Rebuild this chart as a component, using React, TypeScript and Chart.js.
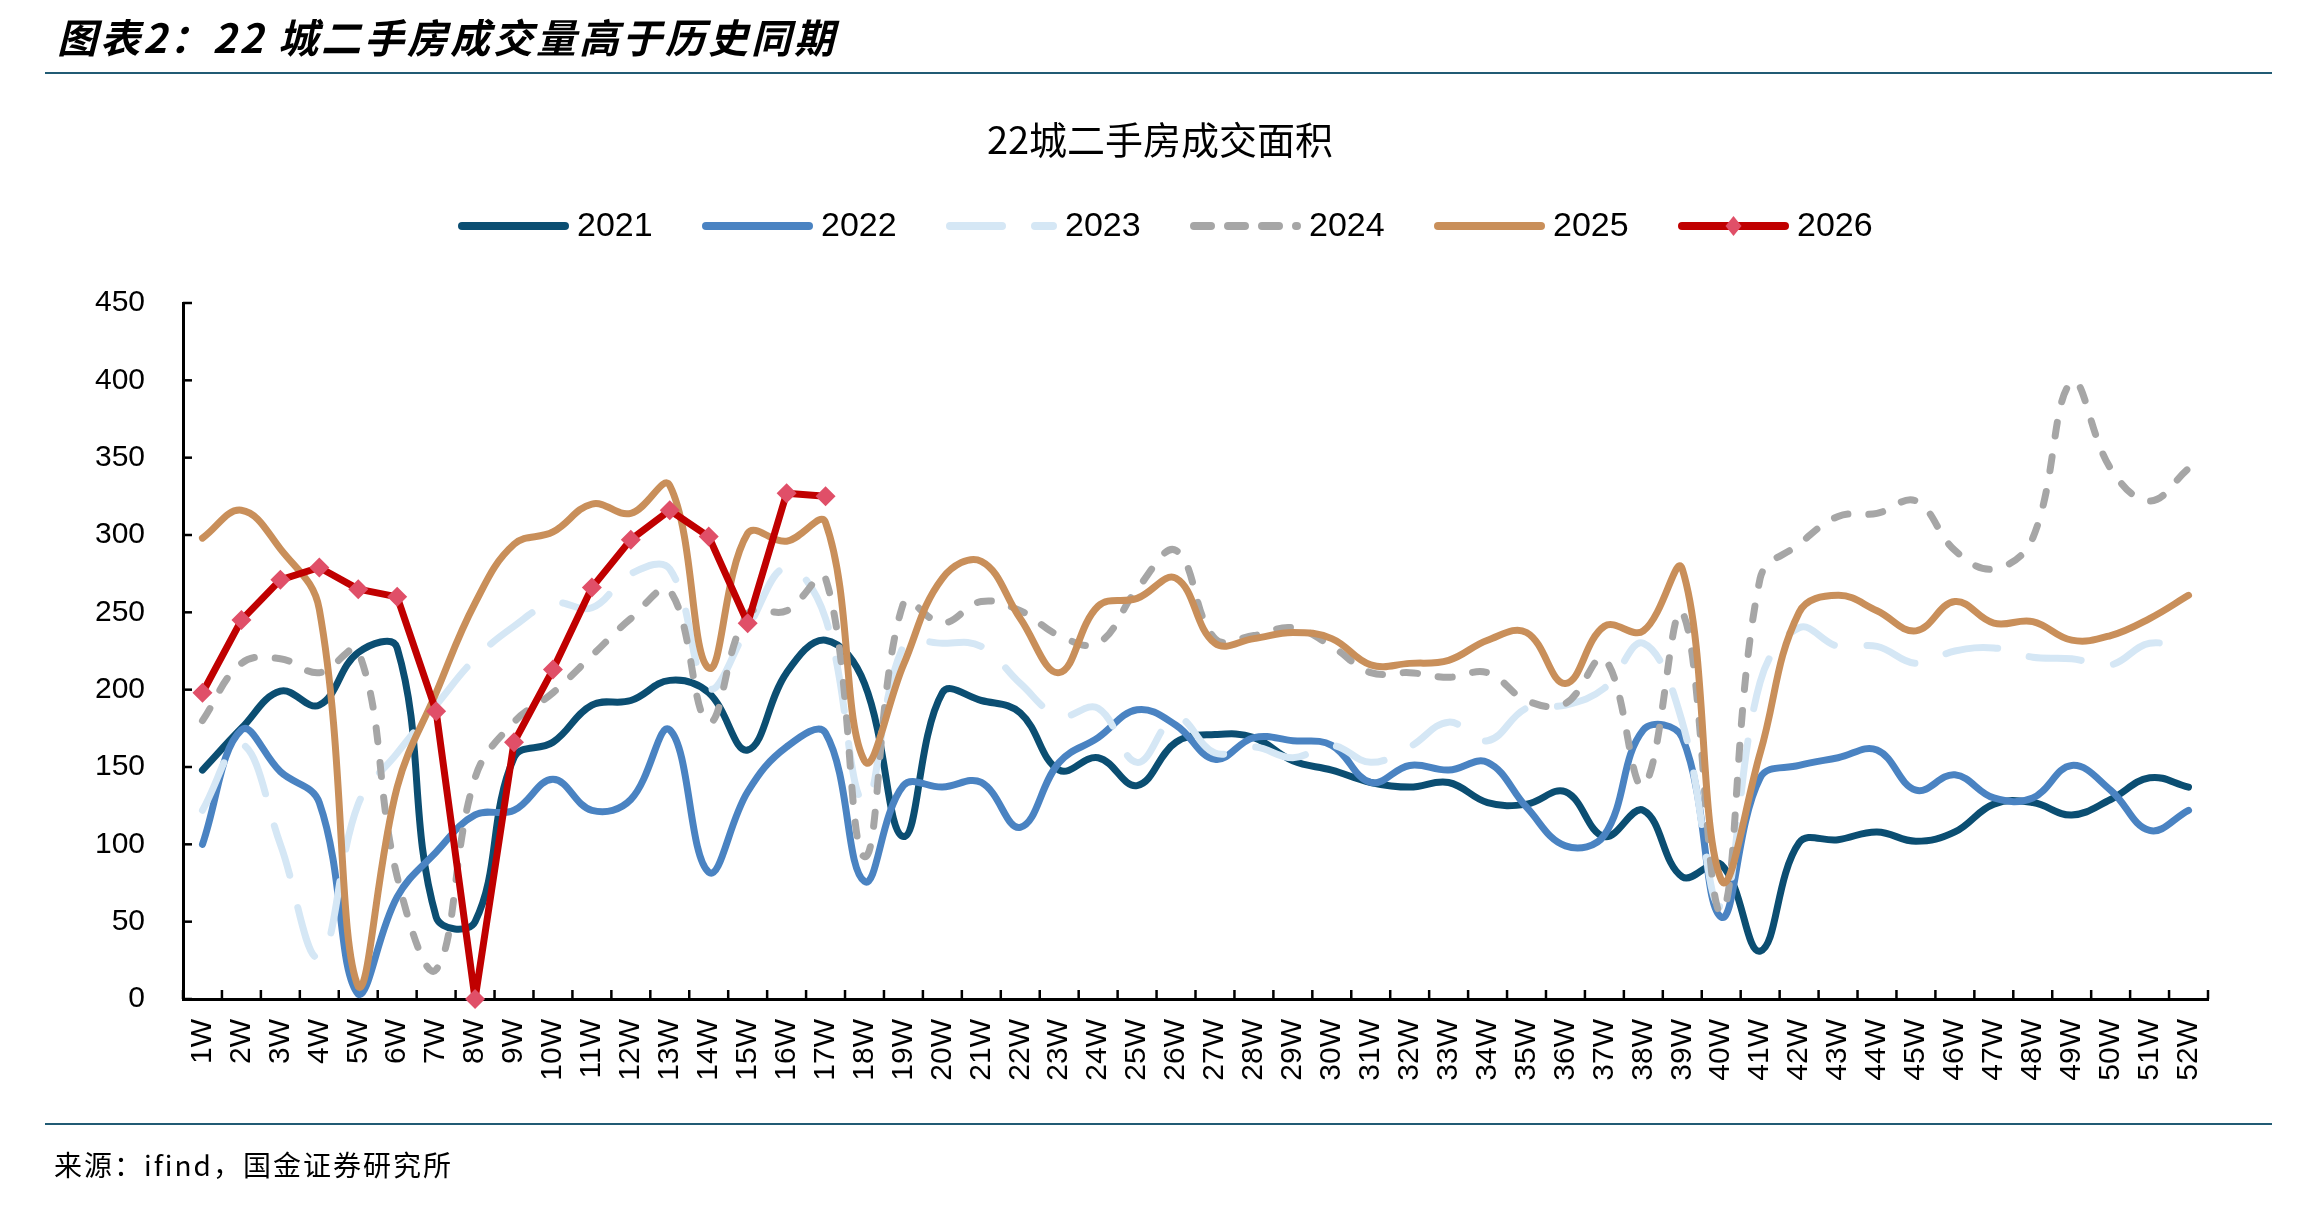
import React, { useEffect, useRef } from "react";
import { Chart, registerables } from "chart.js";

Chart.register(...registerables);

const weeks = [
  "1W", "2W", "3W", "4W", "5W", "6W", "7W", "8W", "9W", "10W", "11W", "12W", "13W",
  "14W", "15W", "16W", "17W", "18W", "19W", "20W", "21W", "22W", "23W", "24W", "25W", "26W",
  "27W", "28W", "29W", "30W", "31W", "32W", "33W", "34W", "35W", "36W", "37W", "38W", "39W",
  "40W", "41W", "42W", "43W", "44W", "45W", "46W", "47W", "48W", "49W", "50W", "51W", "52W",
];

const y2021 = [
  148, 175, 199, 190, 224, 227, 53, 50, 156, 166, 190, 193, 206, 198, 161, 211, 232, 204,
  105, 198, 193, 185, 148, 156, 138, 166, 171, 169, 154, 148, 140, 137, 140, 127, 126, 134,
  105, 122, 79, 87, 31, 101, 103, 108, 102, 108, 126, 127, 119, 129, 143, 137,
];
const y2022 = [
  100, 174, 147, 127, 3, 66, 95, 119, 122, 142, 122, 129, 174, 82, 134, 163, 172, 76,
  138, 137, 140, 111, 153, 169, 187, 177, 155, 169, 167, 164, 140, 151, 148, 153, 124, 99,
  106, 174, 169, 53, 143, 151, 156, 161, 135, 145, 130, 130, 151, 135, 109, 122,
];
const y2023 = [
  122, 165, 100, 27, 126, 159, 190, 220, 241, 256, 253, 275, 278, 201, 240, 279, 246, 127,
  228, 230, 228, 204, 183, 188, 153, 182, 159, 163, 156, 164, 153, 163, 179, 167, 188, 190,
  201, 230, 179, 60, 205, 240, 228, 228, 217, 225, 227, 221, 220, 216, 230, 225,
];
const y2024 = [
  180, 217, 220, 211, 225, 79, 19, 143, 179, 198, 222, 246, 264, 179, 249, 251, 272, 92,
  256, 243, 257, 251, 235, 230, 265, 290, 233, 235, 240, 228, 211, 211, 208, 211, 193, 191,
  220, 138, 250, 56, 272, 294, 312, 314, 322, 290, 278, 298, 399, 343, 322, 343,
];
const y2025 = [
  298, 316, 291, 252, 8, 137, 198, 256, 294, 302, 320, 314, 332, 214, 301, 296, 308, 154,
  216, 272, 283, 246, 211, 254, 259, 272, 230, 233, 237, 233, 216, 217, 219, 232, 237, 204,
  241, 238, 278, 77, 159, 250, 261, 251, 238, 257, 243, 244, 232, 235, 246, 261,
];
const y2026 = [198, 245, 271, 279, 265, 260, 186, 0, 166, 213, 266, 297, 316, 299, 243, 327, 325];

const yTicks = [0, 50, 100, 150, 200, 250, 300, 350, 400, 450];

const chartTitle = "22城二手房成交面积";
const pageTitle = "图表2：22 城二手房成交量高于历史同期";
const sourceText = "来源：ifind，国金证券研究所";

const C2021 = "#0B4E72";
const C2022 = "#4A83C2";
const C2023 = "#D5E7F5";
const C2024 = "#A6A6A6";
const C2025 = "#C98F5A";
const C2026 = "#C00000";
const C2026M = "#E04F68";
const RULE = "#215B74";

const SANS = '"Liberation Sans", Arial, sans-serif';
const CJK = '"Noto Sans CJK SC", "Noto Sans", sans-serif';

const decorPlugin = {
  id: "decor",
  afterDraw(chart: any) {
    const { ctx, chartArea, scales } = chart;
    const xs = scales.x;
    const ys = scales.y;
    ctx.save();
    // inward tick marks
    ctx.strokeStyle = "#000";
    ctx.lineWidth = 2.5;
    ctx.setLineDash([]);
    const step = xs.getPixelForValue(1) - xs.getPixelForValue(0);
    const first = xs.getPixelForValue(0) - step / 2;
    for (let i = 0; i <= weeks.length; i++) {
      const px = first + i * step;
      ctx.beginPath();
      ctx.moveTo(px, chartArea.bottom);
      ctx.lineTo(px, chartArea.bottom - 9);
      ctx.stroke();
    }
    for (const v of yTicks) {
      const py = ys.getPixelForValue(v);
      ctx.beginPath();
      ctx.moveTo(chartArea.left, py);
      ctx.lineTo(chartArea.left + 9, py);
      ctx.stroke();
    }
    // chart title
    ctx.fillStyle = "#000";
    ctx.font = `38px ${CJK}`;
    ctx.textAlign = "center";
    ctx.textBaseline = "middle";
    ctx.fillText(chartTitle, 1160, 140);
    // legend
    ctx.font = `34px ${SANS}`;
    ctx.textAlign = "left";
    const ly = 226;
    const stride = 244;
    const lineLen = 111;
    let lx = 458;
    const sets = chart.data.datasets.slice().sort((a: any, b: any) => b.order - a.order);
    for (const ds of sets) {
      ctx.save();
      ctx.strokeStyle = ds.borderColor;
      ctx.lineWidth = 8;
      ctx.lineCap = "round";
      ctx.setLineDash(ds.legendDash || ds.borderDash || []);
      ctx.beginPath();
      ctx.moveTo(lx + 4, ly);
      ctx.lineTo(lx + lineLen - 4, ly);
      ctx.stroke();
      if (ds.pointRadius > 0) {
        const cx = lx + lineLen / 2;
        const r = 10;
        ctx.fillStyle = ds.pointBackgroundColor;
        ctx.beginPath();
        ctx.moveTo(cx, ly - r);
        ctx.lineTo(cx + r * 0.8, ly);
        ctx.lineTo(cx, ly + r);
        ctx.lineTo(cx - r * 0.8, ly);
        ctx.closePath();
        ctx.fill();
      }
      ctx.restore();
      ctx.fillStyle = "#000";
      ctx.fillText(ds.label, lx + lineLen + 8, ly + 1);
      lx += stride;
    }
    ctx.restore();
  },
};

function lineSet(label: string, data: number[], color: string, order: number, dash: number[] = [], legendDash?: number[]) {
  return {
    label,
    data,
    borderColor: color,
    backgroundColor: color,
    borderWidth: 7,
    borderDash: dash,
    legendDash,
    borderCapStyle: "round" as const,
    borderJoinStyle: "round" as const,
    tension: 0.4,
    pointRadius: 0,
    pointHoverRadius: 0,
    fill: false,
    order,
  };
}

export default function App() {
  const ref = useRef<HTMLCanvasElement>(null);

  useEffect(() => {
    document.body.style.margin = "0";
    document.body.style.background = "#fff";
    const canvas = ref.current!;
    const chart = new Chart(canvas, {
      type: "line",
      data: {
        labels: weeks,
        datasets: [
          lineSet("2021", y2021, C2021, 5),
          lineSet("2022", y2022, C2022, 4),
          lineSet("2023", y2023, C2023, 3, [52, 33]),
          lineSet("2024", y2024, C2024, 2, [14, 21], [17, 17]),
          lineSet("2025", y2025, C2025, 1),
          {
            label: "2026",
            data: y2026,
            borderColor: C2026,
            backgroundColor: C2026M,
            borderWidth: 7,
            borderCapStyle: "round",
            borderJoinStyle: "round",
            tension: 0,
            pointStyle: "rectRot",
            pointRadius: 10,
            pointHoverRadius: 10,
            pointBackgroundColor: C2026M,
            pointBorderColor: C2026M,
            pointBorderWidth: 0,
            fill: false,
            clip: false,
            order: 0,
          } as any,
        ] as any,
      },
      options: {
        responsive: false,
        animation: false,
        devicePixelRatio: window.devicePixelRatio || 1,
        layout: { padding: { top: 303, right: 108, bottom: 0, left: 0 } },
        plugins: {
          legend: { display: false },
          title: { display: false },
          tooltip: { enabled: false },
        },
        events: [],
        scales: {
          x: {
            type: "category",
            offset: true,
            grid: { display: false, drawTicks: false, offset: true },
            border: { display: true, color: "#000", width: 3 },
            ticks: {
              autoSkip: false,
              minRotation: 90,
              maxRotation: 90,
              padding: 20,
              color: "#000",
              font: { family: SANS, size: 30 },
            },
            afterFit(scale: any) {
              scale.height = 209;
            },
          },
          y: {
            min: 0,
            max: 450,
            grid: { display: false, drawTicks: false },
            border: { display: true, color: "#000", width: 3 },
            ticks: {
              stepSize: 50,
              padding: 38,
              color: "#000",
              font: { family: SANS, size: 30 },
            },
            afterFit(scale: any) {
              scale.width = 183;
            },
          },
        },
      },
      plugins: [decorPlugin],
    });
    return () => chart.destroy();
  }, []);

  return (
    <div style={{ position: "relative", width: 2316, height: 1208, background: "#fff", overflow: "hidden" }}>
      <canvas
        ref={ref}
        width={2316}
        height={1208}
        style={{ position: "absolute", left: 0, top: 0, width: 2316, height: 1208 }}
      />
      <div
        style={{
          position: "absolute",
          left: 57,
          top: 15,
          fontFamily: CJK,
          fontWeight: 700,
          fontStyle: "italic",
          fontSize: 40,
          lineHeight: "42px",
          letterSpacing: 3,
          whiteSpace: "nowrap",
          color: "#000",
        }}
      >
        {pageTitle}
      </div>
      <div style={{ position: "absolute", left: 45, top: 72, width: 2227, height: 2, background: RULE }} />
      <div style={{ position: "absolute", left: 45, top: 1123, width: 2227, height: 2, background: RULE }} />
      <div
        style={{
          position: "absolute",
          left: 54,
          top: 1146,
          fontFamily: CJK,
          fontSize: 28,
          lineHeight: "36px",
          letterSpacing: 2,
          whiteSpace: "nowrap",
          color: "#000",
        }}
      >
        {sourceText}
      </div>
    </div>
  );
}
